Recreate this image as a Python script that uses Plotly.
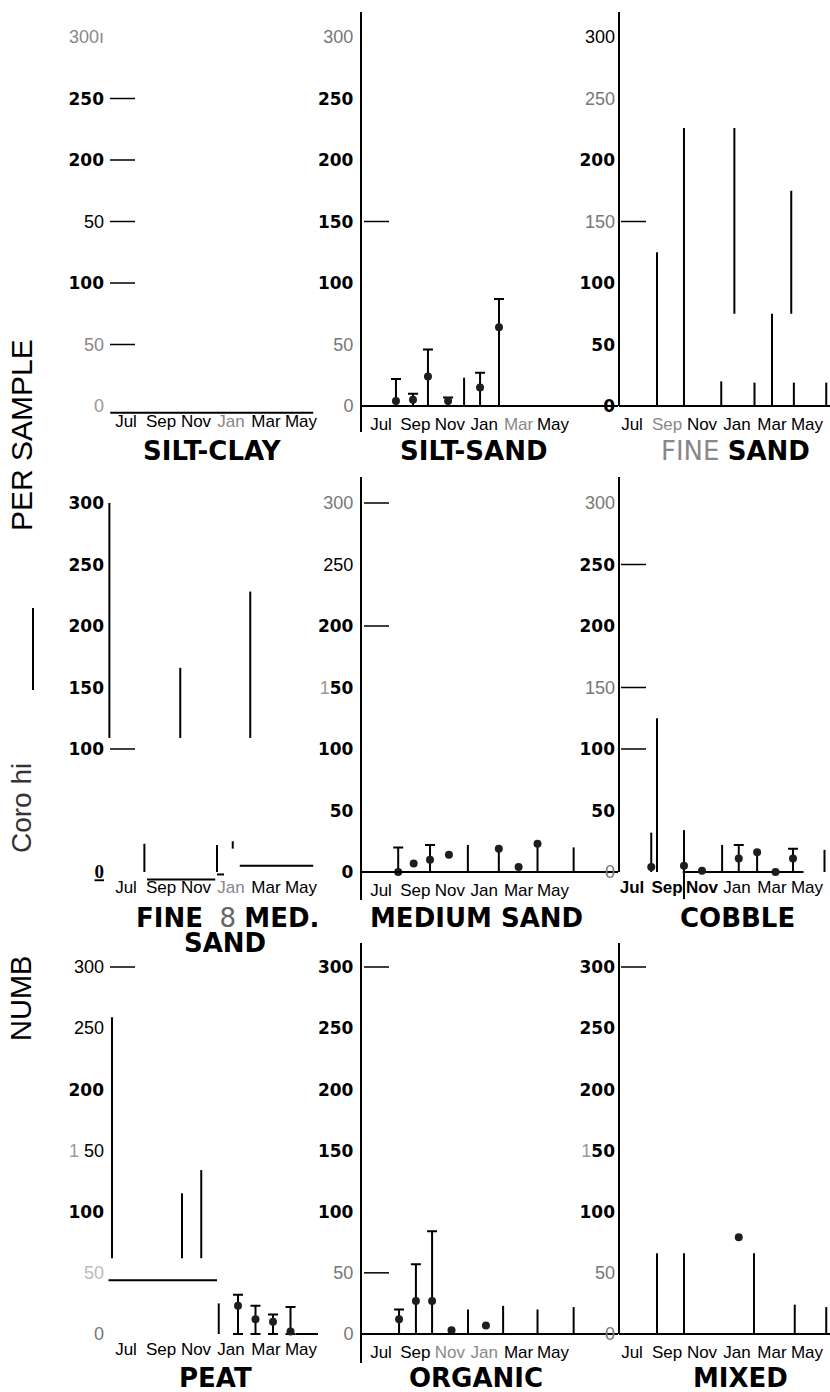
import plotly.graph_objects as go

W, H = 830, 1392

# ---------------- data (month index: Jul = 0 ... May = 10) ----------------
month_ticks = [0, 2, 4, 6, 8, 10]
month_names = ["Jul", "Sep", "Nov", "Jan", "Mar", "May"]
count_ticks = [0, 50, 100, 150, 200, 250, 300]

# SILT-CLAY
sc_dash = [50, 100, 150, 200, 250]
sc_h_from = [-0.9]
sc_h_to = [10.7]
sc_h_y = [-5.5]

# SILT-SAND
ss_pt_month = [0.87, 1.86, 2.73, 3.9, 5.76, 6.86]
ss_pt_mean = [4, 5, 24, 4, 15, 64]
ss_pt_upper = [22, 10, 46, 7, 27, 87]
ss_sp_month = [4.83]
ss_sp_low = [0]
ss_sp_high = [23]
ss_dash = [150]

# FINE SAND
fs_sp_month = [1.43, 2.97, 5.1, 5.85, 7.0, 8.0, 9.1, 9.25, 11.1]
fs_sp_low = [0, 0, 0, 75, 0, 0, 75, 0, 0]
fs_sp_high = [125, 226, 20, 226, 19, 75, 175, 19, 19]
fs_dash = [150]

# FINE & MED. SAND
fm_sp_month = [-0.95, 3.1, 7.1, 1.05, 5.2, 6.1]
fm_sp_low = [109, 109, 109, 0, 0, 19]
fm_sp_high = [300, 166, 228, 23, 22, 25]
fm_h_from = [1.2, 5.2, 6.5]
fm_h_to = [5.1, 5.6, 10.7]
fm_h_y = [-6, -2, 5]
fm_dash = [100]

# MEDIUM SAND
ms_pt_month = [1.0, 1.9, 2.85, 3.95, 6.85, 8.0, 9.1]
ms_pt_mean = [0, 7, 10, 14, 19, 4, 23]
ms_pt_upper = [20, None, 22, None, None, None, None]
ms_sp_month = [5.05, 6.85, 9.1, 11.2]
ms_sp_low = [0, 0, 0, 0]
ms_sp_high = [22, 19, 23, 20]
ms_dash = [200, 300]

# COBBLE
cb_pt_month = [1.1, 2.97, 4.0, 6.1, 7.15, 8.2, 9.2]
cb_pt_mean = [4, 5, 1, 11, 16, 0, 11]
cb_pt_upper = [None, None, None, 22, None, None, 19]
cb_sp_month = [1.43, 1.1, 2.97, 5.15, 7.15, 11.0]
cb_sp_low = [0, 0, -22, 0, 0, 0]
cb_sp_high = [125, 32, 34, 22, 16, 18]
cb_h_from = [2.9]
cb_h_to = [9.8]
cb_h_y = [0]
cb_dash = [100, 150, 250]

# PEAT
pe_pt_month = [6.4, 7.4, 8.4, 9.4]
pe_pt_mean = [23, 12, 10, 2]
pe_pt_upper = [32, 23, 16, 22]
pe_sp_month = [-0.8, 3.2, 4.3, 5.3]
pe_sp_low = [62, 62, 62, 0]
pe_sp_high = [259, 115, 134, 25]
pe_h_from = [-1.0, 9.7]
pe_h_to = [5.2, 11.0]
pe_h_y = [44, 0]
pe_dash = [300]

# ORGANIC
og_pt_month = [1.05, 2.03, 2.97, 4.1, 6.1]
og_pt_mean = [12, 27, 27, 3, 7]
og_pt_upper = [20, 57, 84, None, None]
og_sp_month = [5.06, 7.1, 9.1, 11.2]
og_sp_low = [0, 0, 0, 0]
og_sp_high = [20, 23, 20, 22]
og_dash = [50, 300]

# MIXED
mx_pt_month = [6.1]
mx_pt_mean = [79]
mx_pt_upper = [None]
mx_sp_month = [1.43, 2.97, 6.97, 9.3, 11.1]
mx_sp_low = [0, 0, 0, 0, 0]
mx_sp_high = [66, 66, 66, 24, 22]
mx_dash = [300]


# ---------------- text helpers ----------------
def B(s):
    return f"<b><span style='font-family:DejaVu Sans;font-size:17px'>{s}</span></b>"


def G(s, c="#777"):
    return f"<span style='color:{c}'>{s}</span>"


def months_with(gray=(), bold=()):
    out = []
    for m in month_names:
        if m in bold:
            out.append(f"<b>{m}</b>")
        elif m in gray:
            out.append(G(m, "#888"))
        else:
            out.append(m)
    return out


# ---------------- geometry (pixels) ----------------
COLS = [dict(left=108, right=318, jul=126, ppm=17.5),
        dict(left=362, right=618, jul=381, ppm=17.2),
        dict(left=619, right=830, jul=632, ppm=17.5)]
ROWS = [dict(top=12, bottom=432, zero=406, y300=37, title=451),
        dict(top=477, bottom=900, zero=872, y300=503, title=918),
        dict(top=943, bottom=1363, zero=1334, y300=967, title=1378)]

panels = [
    dict(pts=None, sp=None, hs=(sc_h_from, sc_h_to, sc_h_y), dash=sc_dash,
         yline=None, xline=False,
         ytt=[G("0", "#999"), G("50", "#888"), B("100"), "50", B("200"), B("250"), G("300ı", "#888")],
         xtt=months_with(gray=("Jan",)),
         title="<b>SILT-CLAY</b>", tx=212),
    dict(pts=(ss_pt_month, ss_pt_mean, ss_pt_upper), sp=(ss_sp_month, ss_sp_low, ss_sp_high),
         hs=None, dash=ss_dash, yline="full", xline=True,
         ytt=[G("0"), G("50"), B("100"), B("150"), B("200"), B("250"), G("300")],
         xtt=months_with(gray=("Mar",)),
         title="<b>SILT-SAND</b>", tx=474),
    dict(pts=None, sp=(fs_sp_month, fs_sp_low, fs_sp_high), hs=None, dash=fs_dash,
         yline="above0", xline=True,
         ytt=[B("0"), B("50"), B("100"), G("150"), B("200"), G("250"), "300"],
         xtt=months_with(gray=("Sep",)),
         title=G("FINE", "#888") + " <b>SAND</b>", tx=735),
    dict(pts=None, sp=(fm_sp_month, fm_sp_low, fm_sp_high), hs=(fm_h_from, fm_h_to, fm_h_y),
         dash=fm_dash, yline=None, xline=False,
         ytt=["<b><u><span style='font-family:Liberation Serif;font-size:19px'>0</span></u></b>", "",
              B("100"), B("150"), B("200"), B("250"), B("300")],
         xtt=months_with(gray=("Jan",)),
         title="<b>FINE</b>  " + G("8", "#666") + " <b>MED.</b>", tx=227),
    dict(pts=(ms_pt_month, ms_pt_mean, ms_pt_upper), sp=(ms_sp_month, ms_sp_low, ms_sp_high),
         hs=None, dash=ms_dash, yline="full", xline=True,
         ytt=[B("0"), B("50"), B("100"), G("1", "#999") + B("50"), B("200"), "250", G("300")],
         xtt=months_with(),
         title="<b>MEDIUM SAND</b>", tx=476),
    dict(pts=(cb_pt_month, cb_pt_mean, cb_pt_upper), sp=(cb_sp_month, cb_sp_low, cb_sp_high),
         hs=(cb_h_from, cb_h_to, cb_h_y), dash=cb_dash, yline="above0", xline=False,
         ytt=[G("0"), B("50"), B("100"), G("150"), B("200"), B("250"), G("300")],
         xtt=months_with(bold=("Jul", "Sep", "Nov")),
         title="<b>COBBLE</b>", tx=737),
    dict(pts=(pe_pt_month, pe_pt_mean, pe_pt_upper), sp=(pe_sp_month, pe_sp_low, pe_sp_high),
         hs=(pe_h_from, pe_h_to, pe_h_y), dash=pe_dash, yline=None, xline=False,
         ytt=[G("0"), G("50", "#bbb"), B("100"), G("1", "#999") + " 50", B("200"), "250", "300"],
         xtt=months_with(),
         title="<b>PEAT</b>", tx=215),
    dict(pts=(og_pt_month, og_pt_mean, og_pt_upper), sp=(og_sp_month, og_sp_low, og_sp_high),
         hs=None, dash=og_dash, yline="full", xline=True,
         ytt=[G("0"), G("50"), B("100"), B("150"), B("200"), B("250"), B("300")],
         xtt=months_with(gray=("Nov", "Jan")),
         title="<b>ORGANIC</b>", tx=476),
    dict(pts=(mx_pt_month, mx_pt_mean, mx_pt_upper), sp=(mx_sp_month, mx_sp_low, mx_sp_high),
         hs=None, dash=mx_dash, yline="above0", xline=True,
         ytt=[G("0"), G("50"), B("100"), G("1", "#999") + B("50"), B("200"), B("250"), B("300")],
         xtt=months_with(),
         title="<b>MIXED</b>", tx=740),
]

fig = go.Figure()
layout = dict(width=W, height=H, margin=dict(l=0, r=0, t=0, b=0),
              paper_bgcolor="white", plot_bgcolor="white", showlegend=False)
shapes = []
annotations = []

for i, p in enumerate(panels):
    r, c = divmod(i, 3)
    col, row = COLS[c], ROWS[r]
    n = i + 1
    xs = "" if n == 1 else str(n)
    ppu = (row["zero"] - row["y300"]) / 300.0
    ylo = (row["zero"] - row["bottom"]) / ppu
    yhi = (row["zero"] - row["top"]) / ppu
    xlo = (col["left"] - col["jul"]) / col["ppm"]
    xhi = (col["right"] - col["jul"]) / col["ppm"]

    layout["xaxis" + xs] = dict(
        domain=[col["left"] / W, col["right"] / W], range=[xlo, xhi],
        tickmode="array", tickvals=month_ticks, ticktext=p["xtt"],
        showgrid=False, zeroline=False, showline=p["xline"],
        linecolor="black", linewidth=2, ticks="",
        anchor="free", position=1 - row["zero"] / H,
        tickfont=dict(family="Liberation Sans", size=17, color="black"),
        ticklabelstandoff=3, ticklabeloverflow="allow", fixedrange=True)
    layout["yaxis" + xs] = dict(
        domain=[1 - row["bottom"] / H, 1 - row["top"] / H], range=[ylo, yhi],
        tickmode="array", tickvals=count_ticks, ticktext=p["ytt"],
        showgrid=False, zeroline=False, showline=(p["yline"] == "full"),
        linecolor="black", linewidth=2, ticks="", anchor="x" + xs,
        tickfont=dict(family="Liberation Sans", size=18, color="black"),
        ticklabelstandoff=3, fixedrange=True)

    if p["yline"] == "above0":
        shapes.append(dict(type="line", xref="x" + xs + " domain", x0=0, x1=0,
                           yref="y" + xs, y0=0, y1=yhi,
                           line=dict(color="black", width=2)))

    for lev in p["dash"]:
        shapes.append(dict(type="line", xref="paper",
                           x0=(col["left"] + 2) / W, x1=(col["left"] + 27) / W,
                           yref="y" + xs, y0=lev, y1=lev,
                           line=dict(color="black", width=1.5)))

    if p["sp"]:
        sx, slo, shi = p["sp"]
        X, Y = [], []
        for m, lo, hi in zip(sx, slo, shi):
            X += [m, m, None]
            Y += [lo, hi, None]
        fig.add_trace(go.Scatter(x=X, y=Y, mode="lines", line=dict(color="black", width=2),
                                 xaxis="x" + xs, yaxis="y" + xs, hoverinfo="skip"))
    if p["hs"]:
        hf, ht, hy = p["hs"]
        X, Y = [], []
        for a, b, yy in zip(hf, ht, hy):
            X += [a, b, None]
            Y += [yy, yy, None]
        fig.add_trace(go.Scatter(x=X, y=Y, mode="lines", line=dict(color="black", width=2),
                                 xaxis="x" + xs, yaxis="y" + xs, hoverinfo="skip"))
    if p["pts"]:
        px_, pm, pu = p["pts"]
        bx = [a for a, u in zip(px_, pu) if u is not None]
        bm = [m for m, u in zip(pm, pu) if u is not None]
        bu = [u for u in pu if u is not None]
        if bx:
            fig.add_trace(go.Scatter(
                x=bx, y=bm, mode="markers", cliponaxis=False,
                marker=dict(size=8, color="#1e1e1e"),
                error_y=dict(type="data", symmetric=False,
                             array=[u - m for u, m in zip(bu, bm)],
                             arrayminus=bm, color="black", thickness=2, width=5),
                xaxis="x" + xs, yaxis="y" + xs))
        nx = [a for a, u in zip(px_, pu) if u is None]
        nm = [m for m, u in zip(pm, pu) if u is None]
        if nx:
            fig.add_trace(go.Scatter(
                x=nx, y=nm, mode="markers", cliponaxis=False,
                marker=dict(size=8, color="#1e1e1e"),
                xaxis="x" + xs, yaxis="y" + xs))

    annotations.append(dict(text=p["title"], x=p["tx"] / W, y=1 - row["title"] / H,
                            xref="paper", yref="paper", xanchor="center", yanchor="middle",
                            showarrow=False,
                            font=dict(family="DejaVu Sans", size=26, color="black")))

# second title line for FINE & MED. SAND
annotations.append(dict(text="<b>SAND</b>", x=225 / W, y=1 - 943 / H, xref="paper", yref="paper",
                        xanchor="center", yanchor="middle", showarrow=False,
                        font=dict(family="DejaVu Sans", size=26, color="black")))

# left-side axis label fragments
for txt, cy, size, color in [("PER SAMPLE", 435, 30, "black"),
                             ("Coro hi", 808, 28, "#333"),
                             ("NUMB", 999, 29, "black")]:
    annotations.append(dict(text=txt, x=21 / W, y=1 - cy / H, xref="paper", yref="paper",
                            xanchor="center", yanchor="middle", textangle=-90, showarrow=False,
                            font=dict(family="Liberation Sans", size=size, color=color)))
shapes.append(dict(type="line", xref="paper", yref="paper", x0=33 / W, x1=33 / W,
                   y0=1 - 690 / H, y1=1 - 608 / H, line=dict(color="black", width=2)))

layout["shapes"] = shapes
layout["annotations"] = annotations
fig.update_layout(**layout)
fig.write_html("out.html", config={"displayModeBar": False},
               post_script="document.body.style.margin='0';document.body.style.overflow='hidden';")
